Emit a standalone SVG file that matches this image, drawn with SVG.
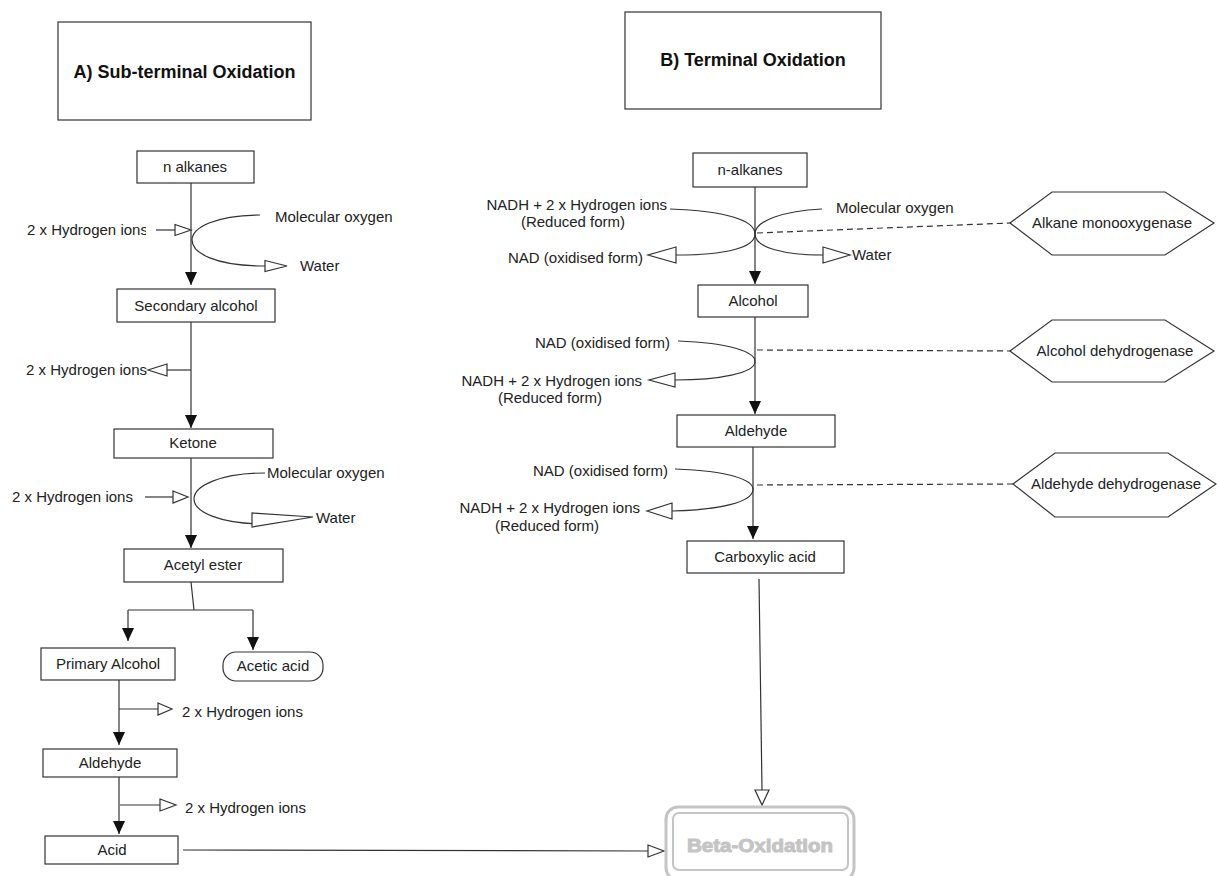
<svg xmlns="http://www.w3.org/2000/svg" width="1217" height="876" viewBox="0 0 1217 876">
<defs>
<style>
text{font-family:"Liberation Sans",Arial,sans-serif;font-size:15px;fill:#222}
.title{font-size:18px;font-weight:bold;fill:#111}
.box{fill:#fff;stroke:#333;stroke-width:1.2}
.ln{fill:none;stroke:#333;stroke-width:1.2}
.dash{fill:none;stroke:#333;stroke-width:1.2;stroke-dasharray:6 4}
.open{fill:#fff;stroke:#333;stroke-width:1.2}
.c{text-anchor:middle}
.e{text-anchor:end}
.beta{fill:#fff;stroke:#c4c4c4}
.btext{font-size:19px;font-weight:bold;fill:#c4c4c4;stroke:#c4c4c4;stroke-width:1}
</style>
<marker id="fa" markerUnits="userSpaceOnUse" markerWidth="14" markerHeight="14" refX="13" refY="6" orient="auto">
<path d="M0,0 L13,6 L0,12 z" fill="#111"/>
</marker>
<clipPath id="clipH"><rect x="0" y="200" width="146" height="60"/></clipPath>
</defs>

<g id="titleA"><rect class="box" x="58" y="22" width="253" height="98"/><text class="title c" x="184.5" y="78">A) Sub-terminal Oxidation</text></g>
<g id="titleB"><rect class="box" x="625" y="12" width="256" height="97"/><text class="title c" x="753" y="66">B) Terminal Oxidation</text></g>

<g id="connectors">
<line class="ln" x1="191" y1="183" x2="191" y2="285" marker-end="url(#fa)"/>
<line class="ln" x1="156" y1="230" x2="175" y2="230"/>
<polygon class="open" points="175,224.5 191,230 175,235.5"/>
<path class="ln" d="M260,215 C215,215 192,228 192,240 C192,253 215,266 265,266"/>
<polygon class="open" points="265,260.5 287,266 265,271.5"/>

<line class="ln" x1="191" y1="322" x2="191" y2="428" marker-end="url(#fa)"/>
<line class="ln" x1="191" y1="370" x2="167" y2="370"/>
<polygon class="open" points="167,364 148,370 167,376"/>

<line class="ln" x1="191" y1="458" x2="191" y2="548" marker-end="url(#fa)"/>
<line class="ln" x1="145" y1="497" x2="173" y2="497"/>
<polygon class="open" points="173,491 188,497 173,503"/>
<path class="ln" d="M265,473 C220,473 194,486 194,499 C194,512 220,524 266,524"/>
<polygon class="open" points="252,513 252,527 313,517"/>

<polyline class="ln" points="191,582 194,610"/>
<line class="ln" x1="128" y1="610" x2="253" y2="610"/>
<line class="ln" x1="128" y1="610" x2="128" y2="641" marker-end="url(#fa)"/>
<line class="ln" x1="253" y1="610" x2="253" y2="650" marker-end="url(#fa)"/>

<line class="ln" x1="119" y1="680" x2="119" y2="745" marker-end="url(#fa)"/>
<line class="ln" x1="119" y1="709" x2="158" y2="709"/>
<polygon class="open" points="158,703 172,709 158,715"/>

<line class="ln" x1="119" y1="777" x2="119" y2="834" marker-end="url(#fa)"/>
<line class="ln" x1="120" y1="805" x2="160" y2="805"/>
<polygon class="open" points="160,799 176,805 160,811"/>

<line class="ln" x1="183" y1="850" x2="648" y2="851"/>
<polygon class="open" points="648,845 664,851 648,857"/>

<line class="ln" x1="755" y1="187" x2="755" y2="284" marker-end="url(#fa)"/>
<path class="ln" d="M670,209 C725,211 755,220 755,234 C755,248 725,255 676,255"/>
<polygon class="open" points="676,247 648,255 676,263"/>
<path class="ln" d="M822,209 C785,211 755,220 755,234 C755,248 785,255 823,255"/>
<polygon class="open" points="823,247 850,255 823,263"/>
<line class="dash" x1="757" y1="233" x2="1010" y2="223"/>

<line class="ln" x1="755" y1="317" x2="755" y2="414" marker-end="url(#fa)"/>
<path class="ln" d="M678,341 C730,343 756,352 755,362 C754,373 720,380 675,380"/>
<polygon class="open" points="675,373 649,380 675,387"/>
<line class="dash" x1="757" y1="350" x2="1010" y2="351"/>

<line class="ln" x1="753" y1="447" x2="753" y2="539" marker-end="url(#fa)"/>
<path class="ln" d="M675,469 C730,471 754,480 753,490 C752,502 720,510 672,511"/>
<polygon class="open" points="672,503 647,511 672,519"/>
<line class="dash" x1="757" y1="485" x2="1013" y2="484"/>

<line class="ln" x1="759" y1="579" x2="762" y2="790"/>
<polygon class="open" points="755,790 769,790 762,805"/>
</g>

<g id="lbl-left">
<text x="27" y="235" clip-path="url(#clipH)">2 x Hydrogen ions</text>
<text x="275" y="222">Molecular oxygen</text>
<text x="300" y="271">Water</text>
<text class="e" x="147" y="375">2 x Hydrogen ions</text>
<text x="12" y="502">2 x Hydrogen ions</text>
<text x="267" y="478">Molecular oxygen</text>
<text x="316" y="523">Water</text>
<text x="182" y="717">2 x Hydrogen ions</text>
<text x="185" y="813">2 x Hydrogen ions</text>
</g>

<g id="n-alkanes-a"><rect class="box" x="137" y="151" width="117" height="32"/><text class="c" x="195" y="172">n alkanes</text></g>
<g id="secondary-alcohol"><rect class="box" x="117" y="289" width="158" height="33"/><text class="c" x="196" y="311">Secondary alcohol</text></g>
<g id="ketone"><rect class="box" x="114" y="429" width="159" height="29"/><text class="c" x="193" y="448">Ketone</text></g>
<g id="acetyl-ester"><rect class="box" x="124" y="549" width="159" height="33"/><text class="c" x="203" y="570">Acetyl ester</text></g>
<g id="primary-alcohol"><rect class="box" x="41" y="648" width="134" height="32"/><text class="c" x="108" y="669">Primary Alcohol</text></g>
<g id="acetic-acid"><rect class="box" x="223" y="652" width="100" height="29" rx="13"/><text class="c" x="273" y="671">Acetic acid</text></g>
<g id="aldehyde-a"><rect class="box" x="43" y="749" width="134" height="28"/><text class="c" x="110" y="768">Aldehyde</text></g>
<g id="acid"><rect class="box" x="45" y="836" width="133" height="28"/><text class="c" x="112" y="855">Acid</text></g>

<g id="lbl-right">
<text class="e" x="667" y="210">NADH + 2 x Hydrogen ions</text>
<text class="c" x="573" y="227">(Reduced form)</text>
<text class="e" x="643" y="263">NAD (oxidised form)</text>
<text x="836" y="213">Molecular oxygen</text>
<text x="852" y="260">Water</text>
<text class="e" x="670" y="348">NAD (oxidised form)</text>
<text class="e" x="642" y="386">NADH + 2 x Hydrogen ions</text>
<text class="c" x="550" y="403">(Reduced form)</text>
<text class="e" x="668" y="476">NAD (oxidised form)</text>
<text class="e" x="640" y="513">NADH + 2 x Hydrogen ions</text>
<text class="c" x="547" y="531">(Reduced form)</text>
</g>

<g id="n-alkanes-b"><rect class="box" x="693" y="153" width="114" height="34"/><text class="c" x="750" y="175">n-alkanes</text></g>
<g id="alcohol"><rect class="box" x="698" y="285" width="110" height="32"/><text class="c" x="753" y="306">Alcohol</text></g>
<g id="aldehyde-b"><rect class="box" x="677" y="415" width="158" height="32"/><text class="c" x="756" y="436">Aldehyde</text></g>
<g id="carboxylic-acid"><rect class="box" x="687" y="541" width="157" height="32"/><text class="c" x="765" y="562">Carboxylic acid</text></g>

<g id="alkane-monooxygenase"><polygon class="box" points="1010,223 1052,192 1165,192 1214,223 1165,255 1052,255"/><text class="c" x="1112" y="228">Alkane monooxygenase</text></g>
<g id="alcohol-dehydrogenase"><polygon class="box" points="1010,351 1052,320 1165,320 1214,351 1165,382 1052,382"/><text class="c" x="1115" y="356">Alcohol dehydrogenase</text></g>
<g id="aldehyde-dehydrogenase"><polygon class="box" points="1013,484 1055,453 1168,453 1216,484 1168,517 1055,517"/><text class="c" x="1116" y="489">Aldehyde dehydrogenase</text></g>

<g id="beta-oxidation">
<rect class="beta" x="666" y="807" width="188" height="73" rx="12" stroke-width="3"/>
<rect class="beta" x="673" y="813" width="175" height="57" rx="6" stroke-width="2"/>
<text class="btext c" x="760" y="852" textLength="146" lengthAdjust="spacingAndGlyphs">Beta-Oxidation</text>
</g>
</svg>
